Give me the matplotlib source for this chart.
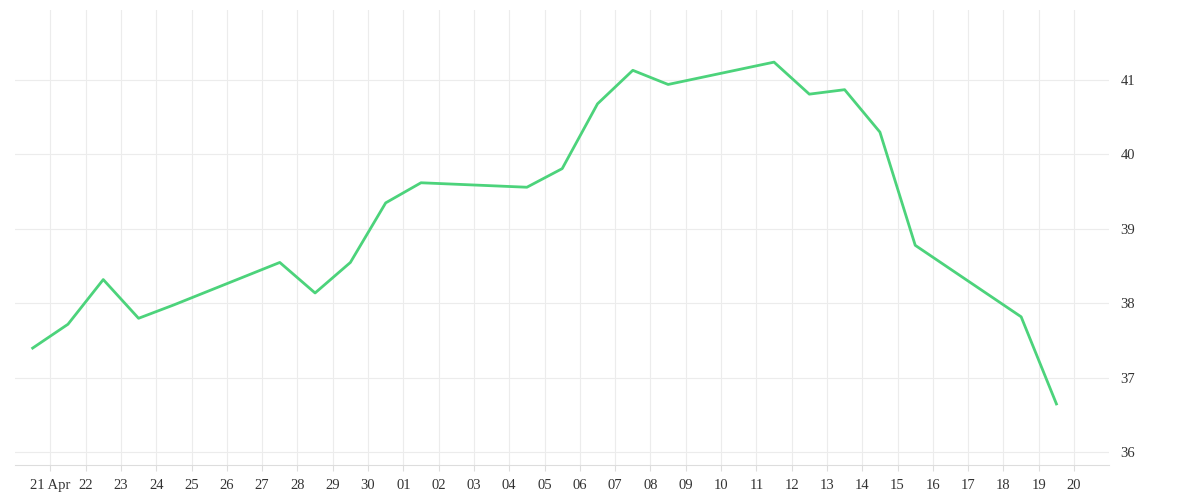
import matplotlib
matplotlib.use("Agg")
import matplotlib.pyplot as plt
import pandas as pd

dates = ["2024-04-20 12:00","2024-04-21 12:00","2024-04-22 12:00","2024-04-23 12:00","2024-04-24 12:00",
         "2024-04-27 12:00","2024-04-28 12:00","2024-04-29 12:00","2024-04-30 12:00","2024-05-01 12:00",
         "2024-05-04 12:00","2024-05-05 12:00","2024-05-06 12:00","2024-05-07 12:00","2024-05-08 12:00",
         "2024-05-11 12:00","2024-05-12 12:00","2024-05-13 12:00","2024-05-14 12:00","2024-05-15 12:00",
         "2024-05-18 12:00","2024-05-19 12:00"]
values = [37.40,37.72,38.32,37.80,37.98,38.55,38.14,38.55,39.35,39.62,39.56,39.81,40.68,41.13,40.94,
          41.24,40.81,40.87,40.30,38.78,37.82,36.65]

x = pd.to_datetime(dates)
fig = plt.figure(figsize=(12, 5), dpi=100)
ax = fig.add_axes([0.0125, 0.07, 0.912, 0.91])
ax.plot(x, values, color="#4cd37b", lw=2)
ax.set_xlim(pd.Timestamp("2024-04-20"), pd.Timestamp("2024-05-21"))
ax.set_ylim(35.83, 41.94)
ax.set_yticks([36,37,38,39,40,41])
ax.yaxis.tick_right()
ticks = pd.date_range("2024-04-21", "2024-05-20", freq="D")
ax.set_xticks(ticks)
ax.set_xticklabels(["21 Apr" if i == 0 else t.strftime("%d") for i, t in enumerate(ticks)])
ax.grid(True, color="#ececec", lw=0.8)
for k, s in ax.spines.items():
    s.set_visible(k == "bottom")
ax.spines["bottom"].set_color("#dddddd")
ax.tick_params(axis="x", length=4, color="#dddddd", labelsize=10.5, colors="#333333", pad=6)
ax.tick_params(axis="x", color="#dddddd")
ax.tick_params(axis="y", length=0, labelsize=10.5, colors="#333333", pad=8)
for lab in ax.get_xticklabels() + ax.get_yticklabels():
    lab.set_family("Liberation Serif")
fig.savefig("out.png")
